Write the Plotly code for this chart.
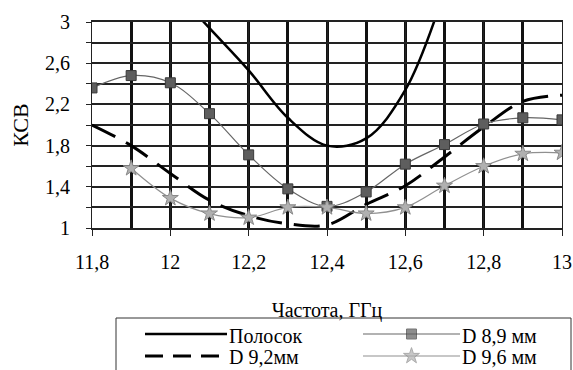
import plotly.graph_objects as go

# ---- data ----
freq = [11.8, 11.9, 12.0, 12.1, 12.2, 12.3, 12.4, 12.5, 12.6, 12.7, 12.8, 12.9, 13.0]

polosok_x = [12.0, 12.1, 12.2, 12.3, 12.4, 12.5, 12.6, 12.7]
polosok_y = [3.35, 2.94, 2.53, 2.07, 1.80, 1.87, 2.34, 3.30]

d89_y = [2.36, 2.48, 2.41, 2.11, 1.71, 1.38, 1.21, 1.35, 1.62, 1.81, 2.01, 2.07, 2.05]

d92_y = [2.00, 1.80, 1.53, 1.27, 1.12, 1.04, 1.03, 1.23, 1.41, 1.69, 1.98, 2.23, 2.29]

d96_x = [11.9, 12.0, 12.1, 12.2, 12.3, 12.4, 12.5, 12.6, 12.7, 12.8, 12.9, 13.0]
d96_y = [1.58, 1.29, 1.14, 1.10, 1.20, 1.20, 1.14, 1.20, 1.41, 1.60, 1.72, 1.73]

x_tickvals = [11.8, 12.0, 12.2, 12.4, 12.6, 12.8, 13.0]
x_ticktext = ["11,8", "12", "12,2", "12,4", "12,6", "12,8", "13"]
y_tickvals = [1.0, 1.2, 1.4, 1.6, 1.8, 2.0, 2.2, 2.4, 2.6, 2.8, 3.0]
y_ticktext = ["1", "", "1,4", "", "1,8", "", "2,2", "", "2,6", "", "3"]

legend_names = ["Полосок", "D 9,2мм", "D 8,9 мм", "D 9,6 мм"]

FONT = "Liberation Serif"
W, H = 573, 370

fig = go.Figure()

fig.add_trace(go.Scatter(x=polosok_x, y=polosok_y, mode="lines",
                         line=dict(color="black", width=2.5, shape="spline"),
                         showlegend=False))
fig.add_trace(go.Scatter(x=freq, y=d92_y, mode="lines",
                         line=dict(color="black", width=3, shape="spline", dash="26px,12px"),
                         showlegend=False))
fig.add_trace(go.Scatter(x=freq, y=d89_y, mode="lines+markers",
                         line=dict(color="#666666", width=1.2, shape="spline"),
                         marker=dict(symbol="square", size=10, color="#5e5e5e",
                                     line=dict(color="#3a3a3a", width=1)),
                         showlegend=False))
fig.add_trace(go.Scatter(x=d96_x, y=d96_y, mode="lines+markers",
                         line=dict(color="#909090", width=1.2, shape="spline"),
                         marker=dict(symbol="star", size=12, color="#b0b0b0",
                                     line=dict(color="#888888", width=1)),
                         showlegend=False))

# ---- manual legend on a helper axis pair (pixel-like coordinates) ----
LEG_TOP = 312
leg_x0, leg_x1 = 116, 571
leg_y0, leg_y1 = 318, 375
rows_text = [336, 357]
rows_line = [334, 356]
col_line = [(145, 227), (363, 460)]
entries = [(0, 0), (0, 1), (1, 0), (1, 1)]  # (col,row) for names order
styles = [
    dict(line=dict(color="black", width=2.5), mode="lines"),
    dict(line=dict(color="black", width=3, dash="18px,10px"), mode="lines"),
    dict(line=dict(color="#666666", width=1.2), mode="lines+markers",
         marker=dict(symbol="square", size=10, color="#5e5e5e", line=dict(color="#3a3a3a", width=1))),
    dict(line=dict(color="#909090", width=1.2), mode="lines+markers",
         marker=dict(symbol="star", size=12, color="#b0b0b0", line=dict(color="#888888", width=1))),
]
for name, (c, r), st in zip(legend_names, entries, styles):
    xa, xb = col_line[c]
    xs = [xa, (xa + xb) / 2, xb]
    ys = [rows_line[r]] * 3
    st = dict(st)
    if "marker" in st:
        st["marker"] = dict(st["marker"])
        st["marker"]["size"] = [0, st["marker"]["size"], 0]
    fig.add_trace(go.Scatter(x=xs, y=ys, xaxis="x2", yaxis="y2", showlegend=False,
                             hoverinfo="skip", cliponaxis=False, **st))
    fig.add_annotation(x=xb, y=rows_text[r], xref="x2", yref="y2", text=name,
                       showarrow=False, xanchor="left", yanchor="middle",
                       font=dict(family=FONT, size=20, color="black"))

fig.add_shape(type="rect", x0=leg_x0, x1=leg_x1, y0=leg_y0, y1=leg_y1,
              xref="x2", yref="y2", line=dict(color="#333333", width=1))

fig.update_layout(
    width=W, height=H,
    margin=dict(l=0, r=0, t=0, b=0),
    paper_bgcolor="white", plot_bgcolor="rgba(0,0,0,0)",
    font=dict(family=FONT, size=20, color="black"),
    xaxis=dict(domain=[92 / W, 562 / W], range=[11.8, 13.0],
               tickvals=x_tickvals, ticktext=x_ticktext,
               ticks="outside", ticklen=6, tickcolor="#222", tickwidth=1,
               ticklabelstandoff=9,
               showgrid=True, gridcolor="#222222", gridwidth=1,
               minor=dict(tick0=11.8, dtick=0.1, showgrid=True, gridcolor="#111111", gridwidth=3),
               showline=True, linecolor="#222222", linewidth=2, mirror=True,
               zeroline=False, automargin=False,
               tickfont=dict(family=FONT, size=20),
               title=dict(text="Частота, ГГц", font=dict(family=FONT, size=20), standoff=31)),
    yaxis=dict(domain=[1 - 228 / H, 1 - 22 / H], range=[1.0, 3.0],
               tickvals=y_tickvals, ticktext=y_ticktext,
               ticks="outside", ticklen=5, tickcolor="#222", tickwidth=1,
               ticklabelstandoff=12,
               showgrid=True, gridcolor="#222222", gridwidth=2,
               showline=True, linecolor="#222222", linewidth=1, mirror=True,
               zeroline=False, automargin=False,
               tickfont=dict(family=FONT, size=20),
               title=dict(text="КСВ", font=dict(family=FONT, size=22), standoff=10)),
    xaxis2=dict(domain=[0, 1], range=[0, W], visible=False, fixedrange=True),
    yaxis2=dict(domain=[0, 1 - LEG_TOP / H], range=[H, LEG_TOP], visible=False, fixedrange=True),
)

fig.write_html("out.html", config={"displayModeBar": False},
               post_script="document.body.style.margin='0';document.body.style.overflow='hidden';")
